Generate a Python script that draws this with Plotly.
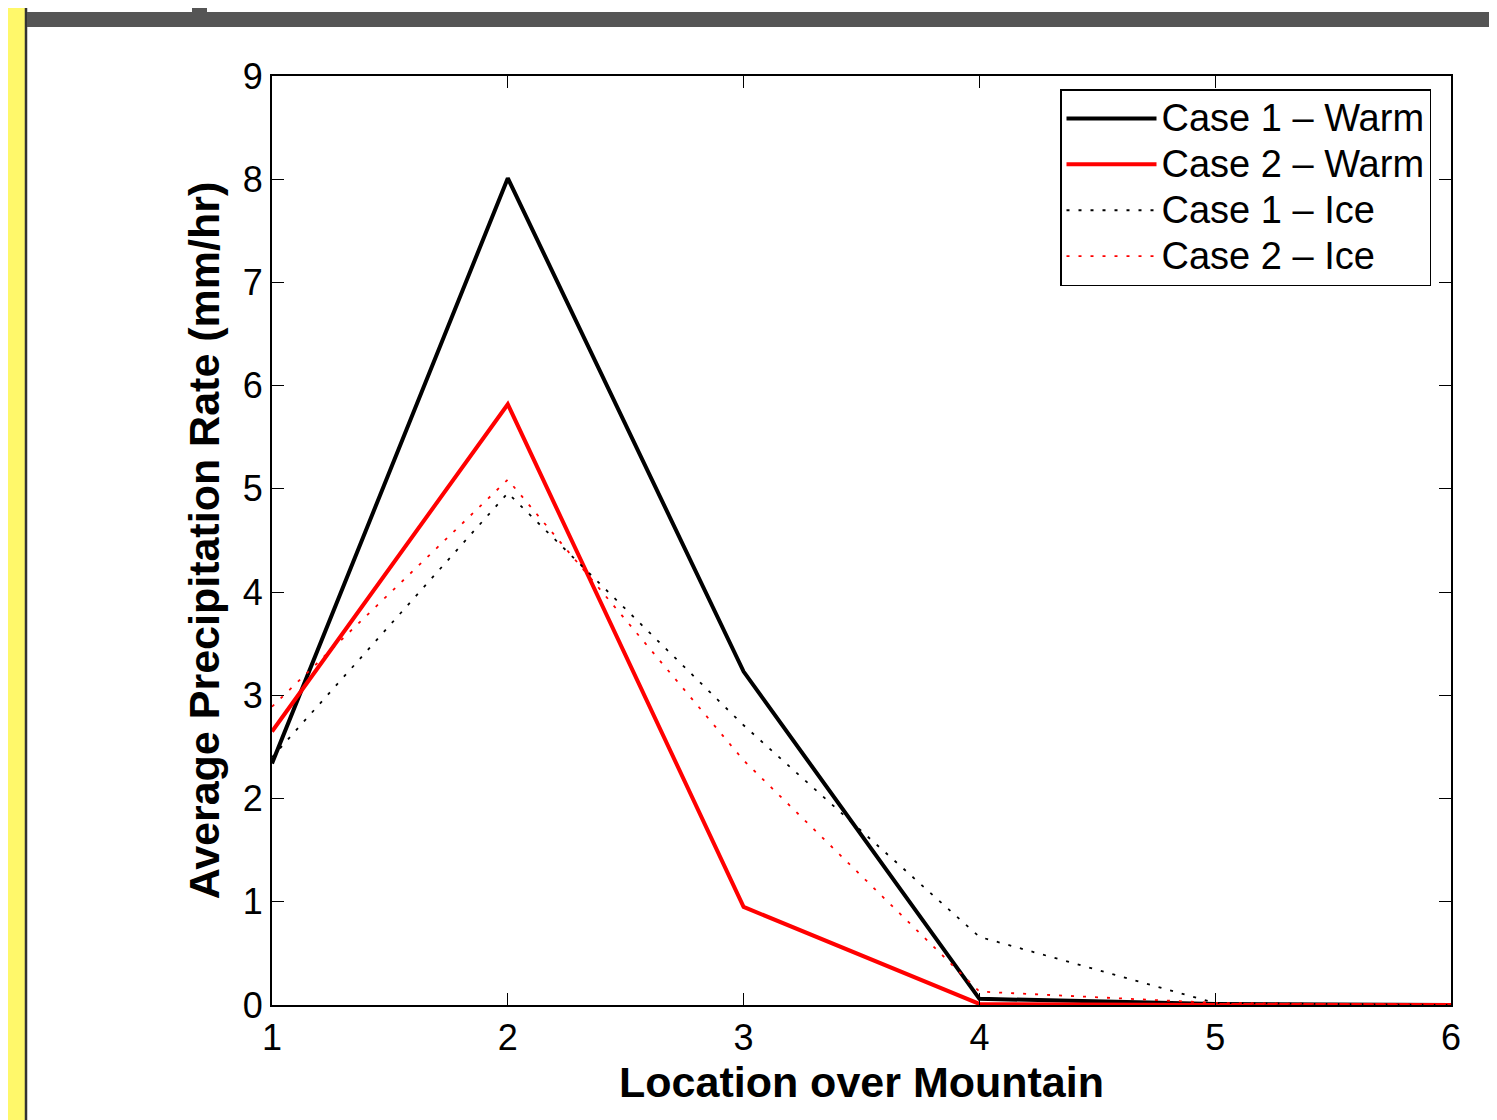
import plotly.graph_objects as go

x_loc = [1, 2, 3, 4, 5, 6]
case1_warm = [2.34, 8.01, 3.23, 0.06, 0.01, 0.0]
case2_warm = [2.65, 5.82, 0.95, 0.01, 0.0, 0.0]
case1_ice = [2.40, 4.96, 2.71, 0.66, 0.02, 0.0]
case2_ice = [2.89, 5.09, 2.37, 0.13, 0.02, 0.0]
names = ["Case 1 \u2013 Warm", "Case 2 \u2013 Warm", "Case 1 \u2013 Ice", "Case 2 \u2013 Ice"]

# page offset (body margin) and target screen geometry
OX, OY = 8, 8
SW, SH = 1497, 1120
W, H = SW - OX, SH - OY
L, R, T, B = 272, 1451, 76, 1005  # plot area in screen px

def px(x):
    return (x - L) / (R - L)

def py(y):
    return (B - y) / (B - T)

FONT = "Liberation Sans, Arial, Helvetica"

def lab(s):
    return '<span style="font-size:38px">' + s + "</span>"

fig = go.Figure()
fig.add_trace(go.Scatter(x=x_loc, y=case1_warm, mode="lines", name=lab(names[0]),
                         line=dict(color="black", width=4)))
fig.add_trace(go.Scatter(x=x_loc, y=case2_warm, mode="lines", name=lab(names[1]),
                         line=dict(color="#ff0000", width=4)))
fig.add_trace(go.Scatter(x=x_loc, y=case1_ice, mode="lines", name=lab(names[2]),
                         line=dict(color="black", width=1.8, dash="3px,9px")))
fig.add_trace(go.Scatter(x=x_loc, y=case2_ice, mode="lines", name=lab(names[3]),
                         line=dict(color="#ff0000", width=1.8, dash="3px,9px")))

axis_common = dict(showgrid=False, zeroline=False, showline=True, linecolor="black",
                   linewidth=2, mirror="ticks", ticks="inside", ticklen=12,
                   tickwidth=1, tickcolor="black",
                   tickfont=dict(family=FONT, size=36, color="black"))

fig.update_xaxes(range=[1, 6], tickvals=[1, 2, 3, 4, 5, 6],
                 title=dict(text="<b>Location over Mountain</b>", standoff=2,
                            font=dict(family=FONT, size=43, color="black")),
                 **axis_common)
fig.update_yaxes(range=[0, 9], tickvals=list(range(10)),
                 title=dict(text="<b>Average Precipitation Rate (mm/hr)</b>", standoff=10,
                            font=dict(family=FONT, size=43, color="black")),
                 **axis_common)

shapes = [
    dict(type="rect", xref="paper", yref="paper", x0=px(0), x1=px(25), y0=py(0), y1=py(SH),
         fillcolor="#fff86a", line=dict(width=0), layer="below"),
    dict(type="line", xref="paper", yref="paper", x0=px(26), x1=px(26), y0=py(0), y1=py(SH),
         line=dict(color="#333333", width=2.5)),
    dict(type="rect", xref="paper", yref="paper", x0=px(27), x1=px(SW), y0=py(12), y1=py(27),
         fillcolor="#555555", line=dict(width=0)),
    dict(type="rect", xref="paper", yref="paper", x0=px(192), x1=px(207), y0=py(0), y1=py(13),
         fillcolor="#555555", line=dict(width=0)),
]

fig.update_layout(
    width=W, height=H,
    margin=dict(l=L - OX, r=W - (R - OX), t=T - OY, b=H - (B - OY)),
    paper_bgcolor="white", plot_bgcolor="white",
    showlegend=True,
    legend=dict(x=px(1060), y=py(89), xanchor="left", yanchor="top",
                bordercolor="black", borderwidth=1.5, bgcolor="white",
                font=dict(family=FONT, size=33, color="black"),
                itemwidth=90, tracegroupgap=0),
    shapes=shapes,
)

fig.write_html("out.html")
